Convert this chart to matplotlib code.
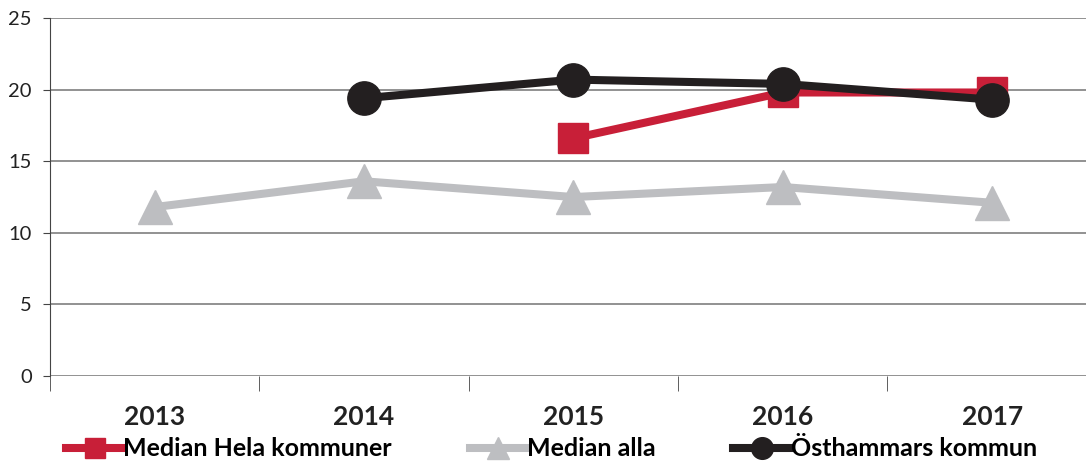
import numpy as np
import matplotlib.pyplot as plt

years = ['2013', '2014', '2015', '2016', '2017']
median_hela = [np.nan, np.nan, 16.6, 19.8, 19.8]
median_alla = [11.8, 13.6, 12.5, 13.2, 12.1]
osthammar = [np.nan, 19.4, 20.7, 20.4, 19.3]

red = '#c81f38'
grey = '#bdbec1'
black = '#231f20'

plt.rcParams['font.family'] = ['Lato', 'DejaVu Sans']

fig = plt.figure(figsize=(10.86, 4.62), dpi=100)
ax = fig.add_axes([0.046, 0.186, 0.964, 0.775])

x = np.arange(len(years))
ax.plot(x, median_alla, color=grey, lw=5.8, marker='^', ms=25, label='Median alla', zorder=3)
ax.plot(x, median_hela, color=red, lw=5.8, marker='s', ms=22, label='Median Hela kommuner', zorder=4)
ax.plot(x, osthammar, color=black, lw=5.8, marker='o', ms=24, label='Östhammars kommun', zorder=5)

ax.set_xlim(-0.5, len(years) - 0.5)
ax.set_ylim(0, 25)
ax.set_yticks([0, 5, 10, 15, 20, 25])
ax.grid(axis='y', color='#7f7f7f', lw=1.2)
ax.set_axisbelow(True)
for s in ['top', 'right', 'bottom']:
    ax.spines[s].set_visible(False)
ax.spines['left'].set_color('#444444')
ax.tick_params(axis='y', length=5, color='#444444', labelsize=14.5, pad=8, labelcolor='#222222')

ax.set_xticks(x)
ax.set_xticklabels(years, fontsize=19, fontweight='bold', color='#222222')
ax.set_xticks(np.arange(-0.5, len(years)), minor=True)
ax.tick_params(axis='x', which='major', length=0, pad=21)
ax.tick_params(axis='x', which='minor', length=11, color='#444444')

# legend order: red, grey, black
h, l = ax.get_legend_handles_labels()
order = [1, 0, 2]
fig.legend([h[i] for i in order], [l[i] for i in order], loc='lower left',
           bbox_to_anchor=(0.04, -0.045), ncol=3, frameon=False,
           prop={'size': 18, 'weight': 'bold'}, handlelength=2.3,
           handletextpad=0.0, columnspacing=3.1, markerscale=0.65)

fig.savefig('out.png', dpi=100)
